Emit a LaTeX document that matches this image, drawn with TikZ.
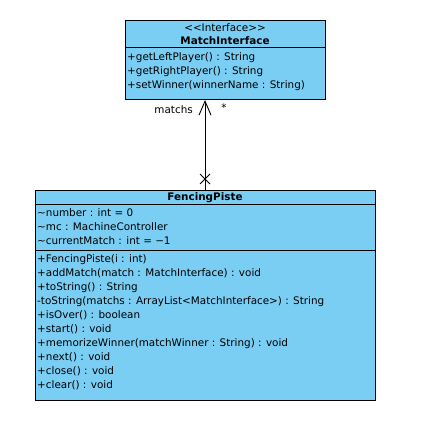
\documentclass[tikz,border=0pt]{standalone}
\usepackage{fontspec}
\setmainfont{DejaVu Sans}
\usetikzlibrary{arrows.meta,calc}
\definecolor{umlblue}{RGB}{122,206,244}
\begin{document}
\begin{tikzpicture}[x=1pt,y=-1pt,
  font=\fontsize{10.4}{12}\selectfont,
  classbox/.style={draw=black, line width=1.3pt, fill=umlblue, rectangle, inner sep=0pt, anchor=north west},
  sepline/.style={draw=black, line width=1pt},
  member/.style={anchor=west, inner sep=0pt},
  ctitle/.style={anchor=center, inner sep=0pt},
  assoc/.style={draw=black, line width=0.9pt},
  lbl/.style={inner sep=0pt}]
\useasboundingbox (0,0) rectangle (422,422);
% MatchInterface
\node[classbox, minimum width=200pt, minimum height=79pt] (mi) at (125,20) {};
\draw[sepline] (125,47.5) -- (325,47.5);
\node[ctitle] (mist) at (225,28) {{<}{<}Interface{>}{>}};
\node[ctitle] (mint) at (225,41) {\bfseries MatchInterface};
\node[member] (m1) at (127,57.5) {+getLeftPlayer() : String};
\node[member] (m2) at (127,71.5) {+getRightPlayer() : String};
\node[member] (m3) at (127,85.5) {+setWinner(winnerName : String)};
% FencingPiste
\node[classbox, minimum width=340pt, minimum height=210pt] (fp) at (35,190) {};
\draw[sepline] (35,204.5) -- (375,204.5);
\draw[sepline] (35,250) -- (375,250);
\node[ctitle] (fpt) at (205,197.5) {\bfseries FencingPiste};
\node[member] (a1) at (37,213) {\textasciitilde number : int = 0};
\node[member] (a2) at (37,227) {\textasciitilde mc : MachineController};
\node[member] (a3) at (37,241) {\textasciitilde currentMatch : int = −1};
\node[member] (o1) at (37,259.5) {+FencingPiste(i : int)};
\node[member] (o2) at (37,273.5) {+addMatch(match : MatchInterface) : void};
\node[member] (o3) at (37,287.5) {+toString() : String};
\node[member] (o4) at (37,301.5) {-toString(matchs : ArrayList<MatchInterface>) : String};
\node[member] (o5) at (37,315.5) {+isOver() : boolean};
\node[member] (o6) at (37,329.5) {+start() : void};
\node[member] (o7) at (37,343.5) {+memorizeWinner(matchWinner : String) : void};
\node[member] (o8) at (37,357.5) {+next() : void};
\node[member] (o9) at (37,371.5) {+close() : void};
\node[member] (o10) at (37,385.5) {+clear() : void};
% association
\coordinate (top) at (205,100);
\coordinate (bot) at (205,189.5);
\coordinate (xm) at (205,179);
\draw[assoc, -{Straight Barb[length=14pt, width=12pt]}] (bot) -- (top);
\draw[assoc] ($(xm)+(-5,-5)$) -- ($(xm)+(5,5)$) ($(xm)+(-5,5)$) -- ($(xm)+(5,-5)$);
\node[lbl, anchor=east] (ml) at (193,110) {matchs};
\node[lbl] (star) at (224,108) {*};
\end{tikzpicture}
\end{document}
